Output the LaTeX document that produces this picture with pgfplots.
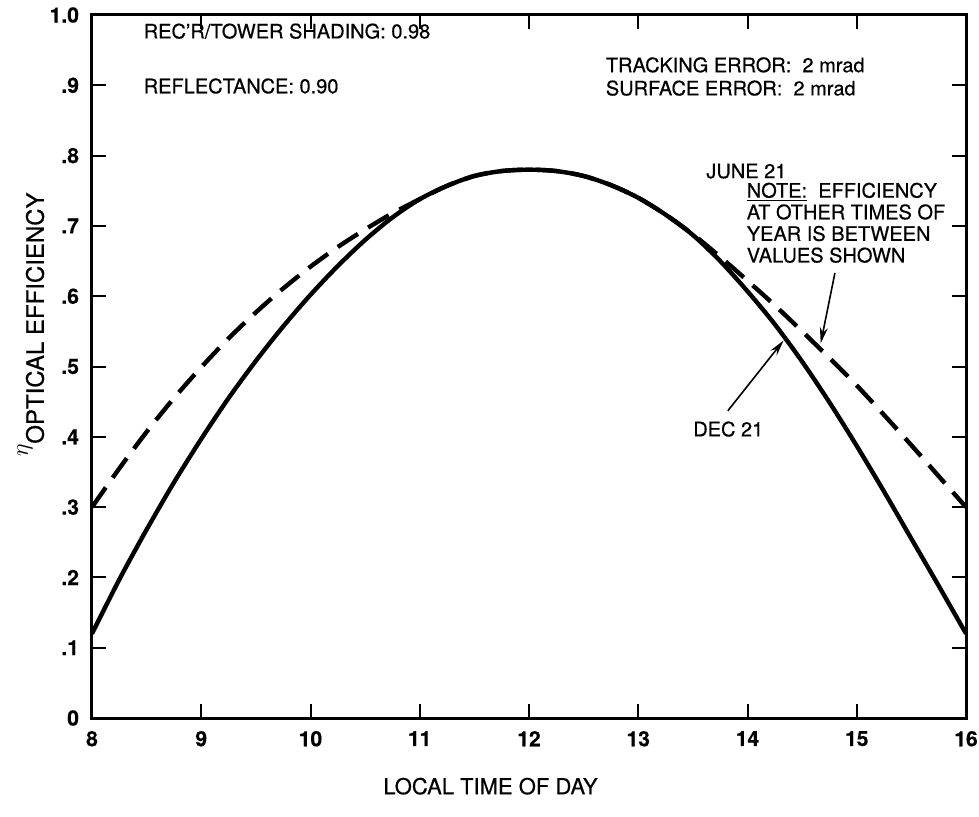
\documentclass[border=0pt]{standalone}
\usepackage{pgfplots}
\pgfplotsset{compat=1.18}
\usetikzlibrary{arrows.meta}
\usepackage{fontspec}
\setmainfont{TeX Gyre Heros}[FakeBold=0.5]
\begin{document}
\begin{tikzpicture}
\begin{axis}[
  name=ax,
  scale only axis, width=437pt, height=351.5pt,
  xmin=8, xmax=16, ymin=0, ymax=1,
  xtick={8,9,10,11,12,13,14,15,16},
  ytick={0,0.1,0.2,0.3,0.4,0.5,0.6,0.7,0.8,0.9,1.0},
  yticklabels={0,.1,.2,.3,.4,.5,.6,.7,.8,.9,1.0},
  tick align=inside, major tick length=7pt,
  every tick/.style={black, line width=1pt},
  axis line style={line width=1.5pt},
  /pgf/number format/assume math mode=true,
  ticklabel style={font=\bfseries\fontsize{10.5}{12}\selectfont},
  yticklabel style={xshift=-3pt},
  xticklabel style={yshift=-3pt},
  xlabel={LOCAL TIME OF DAY},
  xlabel style={font=\fontsize{11}{13}\selectfont, at={(axis description cs:0.456,-0.097)}, anchor=center},
  ylabel={\raisebox{8pt}{$\eta$}OPTICAL EFFICIENCY},
  ylabel style={font=\fontsize{12}{14}\selectfont, at={(axis description cs:-0.07,0.56)}, anchor=center, rotate=0},
  clip=false,
]
\coordinate (sw) at (rel axis cs:0,0);
\coordinate (ne) at (rel axis cs:1,1);
% DEC 21 (solid)
\addplot[black, line width=2.2pt, smooth] coordinates {
(8,0.12) (8.25,0.197) (8.5,0.268) (8.75,0.335) (9,0.397) (9.25,0.455) (9.5,0.508) (9.75,0.557)
(10,0.602) (10.25,0.643) (10.5,0.68) (10.75,0.712) (11,0.738) (11.25,0.757) (11.5,0.771) (11.75,0.778)
(12,0.78) (12.25,0.778) (12.5,0.771) (12.75,0.758) (13,0.74) (13.25,0.716) (13.5,0.687) (13.75,0.65)
(14,0.607) (14.25,0.56) (14.5,0.507) (14.75,0.449) (15,0.387) (15.25,0.322) (15.5,0.255) (15.75,0.188) (16,0.12)
};
% JUNE 21 (dashed)
\addplot[black, line width=2.2pt, smooth, dash pattern=on 12pt off 6pt] coordinates {
(8,0.30) (8.25,0.355) (8.5,0.407) (8.75,0.455) (9,0.499) (9.25,0.54) (9.5,0.577) (9.75,0.611)
(10,0.642) (10.25,0.67) (10.5,0.695) (10.75,0.718) (11,0.738) (11.25,0.757) (11.5,0.771) (11.75,0.778)
(12,0.78) (12.25,0.778) (12.5,0.771) (12.75,0.758) (13,0.74) (13.25,0.716) (13.5,0.688) (13.75,0.656)
(14,0.622) (14.25,0.587) (14.5,0.55) (14.75,0.512) (15,0.473) (15.25,0.431) (15.5,0.388) (15.75,0.344) (16,0.30)
};
\node[anchor=west, inner sep=0, font=\fontsize{10}{12}\selectfont] at (axis cs:8.47,0.977) {REC'R/TOWER SHADING: 0.98};
\node[anchor=west, inner sep=0, font=\fontsize{10}{12}\selectfont] at (axis cs:8.47,0.899) {REFLECTANCE: 0.90};
\node[anchor=west, inner sep=0, font=\fontsize{10}{12}\selectfont] at (axis cs:12.70,0.929) {TRACKING ERROR:\ \ 2 mrad};
\node[anchor=west, inner sep=0, font=\fontsize{10}{12}\selectfont] at (axis cs:12.70,0.896) {SURFACE ERROR:\ \ 2 mrad};
\node[anchor=west, inner sep=0, font=\fontsize{10}{12}\selectfont] at (axis cs:13.62,0.778) {JUNE 21};
\node[anchor=north west, inner sep=0, align=left, font=\fontsize{10}{10.8}\selectfont] at (axis cs:13.99,0.762)
  {\underline{NOTE:}\ \ EFFICIENCY\\AT OTHER TIMES OF\\YEAR IS BETWEEN\\VALUES SHOWN};
\node[anchor=west, inner sep=0, font=\fontsize{10}{12}\selectfont] at (axis cs:13.50,0.411) {DEC 21};
\draw[line width=0.8pt, -{Stealth[length=8pt,width=4pt]}] (axis cs:14.80,0.633) -- (axis cs:14.67,0.533);
\draw[line width=0.8pt, -{Stealth[length=8pt,width=4pt]}] (axis cs:13.82,0.437) -- (axis cs:14.33,0.537);
\end{axis}
\pgfresetboundingbox
\useasboundingbox ([shift={(-46pt,-49pt)}]sw) rectangle ([shift={(6.5pt,7.5pt)}]ne);
\end{tikzpicture}
\end{document}
